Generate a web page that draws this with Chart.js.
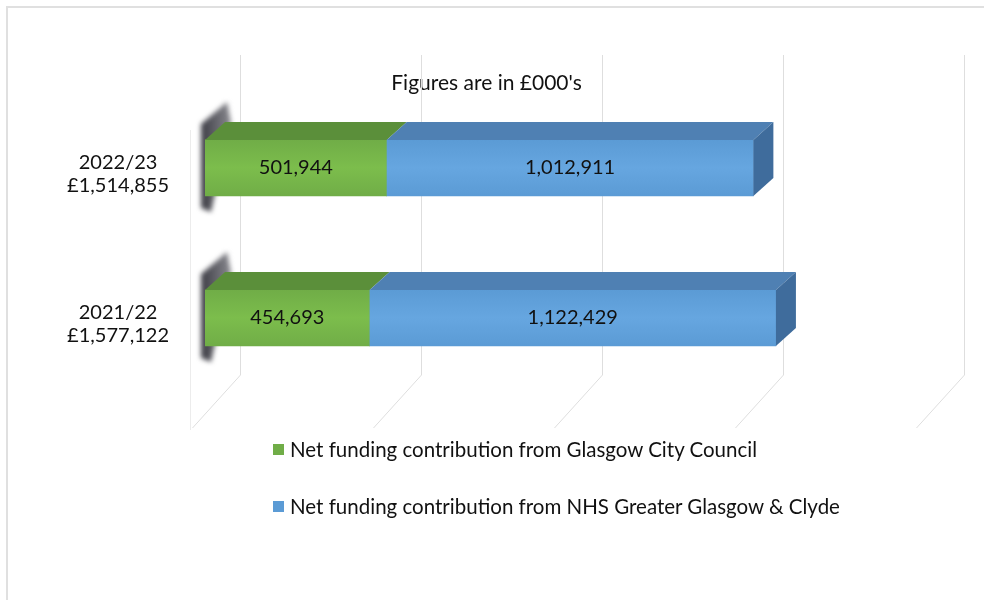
<!DOCTYPE html>
<html>
<head>
<meta charset="utf-8">
<script src="https://cdn.jsdelivr.net/npm/chart.js@4"></script>
<style>
  body { margin: 0; background: #fff; font-family: Lato, "Open Sans", sans-serif; }
  #wrap { position: relative; width: 984px; height: 600px; overflow: hidden; }
  #frame { position: absolute; left: 6px; top: 6px; width: 1000px; height: 620px; border: 2px solid #e0e0e0; box-sizing: border-box; }
  canvas { position: absolute; left: 0; top: 0; }
  .legend-item { position: absolute; left: 273px; font-size: 20.5px; color: #111; display: flex; align-items: center; line-height: 24px; }
  .legend-item span.box { width: 11px; height: 11px; margin-right: 6px; display: inline-block; }
</style>
</head>
<body>
<div id="wrap">
  <div id="frame"></div>
  <canvas id="chart" width="984" height="600"></canvas>
  <div id="legend"></div>
</div>
<script>
const years = ['2022/23', '2021/22'];
const totals = ['£1,514,855', '£1,577,122'];
const councilValues = [501944, 454693];
const nhsValues = [1012911, 1122429];
const seriesNames = [
  'Net funding contribution from Glasgow City Council',
  'Net funding contribution from NHS Greater Glasgow & Clyde'
];
const xTicks = [0, 500000, 1000000, 1500000, 2000000];

const frontColors = ['#70ad47', '#5b9bd5'];
const frontLight = ['#7cbd4c', '#66a6e0'];
const topColors = ['#5b8f3a', '#4f80b3'];
const sideColor = '#3f6c9c';
const depthX = 20, depthY = 18;

// back wall, floor and shadow of the left wall
const backdrop = {
  id: 'backdrop',
  beforeDatasetsDraw(chart) {
    const ctx = chart.ctx;
    const xs = chart.scales.x;
    ctx.save();
    ctx.strokeStyle = '#dedede';
    ctx.lineWidth = 1;
    xTicks.forEach(v => {
      const px = Math.round(xs.getPixelForValue(v)) + 35.5;
      ctx.beginPath();
      ctx.moveTo(px, 55);
      ctx.lineTo(px, 375);
      ctx.lineTo(px - 48, 428);
      ctx.stroke();
    });
    ctx.strokeStyle = '#ececec';
    ctx.beginPath();
    ctx.moveTo(190.5, 130);
    ctx.lineTo(190.5, 430);
    ctx.stroke();

    // dark shading on left wall next to each bar
    const meta = chart.getDatasetMeta(0);
    meta.data.forEach(bar => {
      const top = bar.y - bar.height / 2;
      const bottom = bar.y + bar.height / 2;
      const x0 = bar.base;
      ctx.filter = 'blur(2.5px)';
      const g = ctx.createLinearGradient(x0 - 4, 0, x0 + 26, 0);
      g.addColorStop(0, '#3c3c44');
      g.addColorStop(1, '#8a8a90');
      ctx.fillStyle = g;
      ctx.beginPath();
      ctx.moveTo(x0 - 4, top - 16);
      ctx.lineTo(x0 + 22, top - 38);
      ctx.lineTo(x0 + 26, top - 18);
      ctx.lineTo(x0 + 6, bottom + 16);
      ctx.lineTo(x0 - 4, bottom + 12);
      ctx.closePath();
      ctx.fill();
      ctx.filter = 'none';
    });
    ctx.restore();
  },
  afterDatasetsDraw(chart) {
    const ctx = chart.ctx;
    ctx.save();
    chart.data.datasets.forEach((ds, di) => {
      const meta = chart.getDatasetMeta(di);
      meta.data.forEach((bar, i) => {
        const top = bar.y - bar.height / 2;
        const bottom = bar.y + bar.height / 2;
        const left = bar.base, right = bar.x;
        // front face with soft shading
        const fg = ctx.createLinearGradient(0, top, 0, bottom);
        fg.addColorStop(0, frontColors[di]);
        fg.addColorStop(0.5, frontLight[di]);
        fg.addColorStop(1, frontColors[di]);
        ctx.fillStyle = fg;
        ctx.fillRect(left, top, right - left, bottom - top);
        // top face
        ctx.fillStyle = topColors[di];
        ctx.beginPath();
        ctx.moveTo(left, top);
        ctx.lineTo(right, top);
        ctx.lineTo(right + depthX, top - depthY);
        ctx.lineTo(left + depthX, top - depthY);
        ctx.closePath();
        ctx.fill();
        // side face on the end of the stack
        if (di === chart.data.datasets.length - 1) {
          ctx.fillStyle = sideColor;
          ctx.beginPath();
          ctx.moveTo(right, top);
          ctx.lineTo(right + depthX, top - depthY);
          ctx.lineTo(right + depthX, bottom - depthY);
          ctx.lineTo(right, bottom);
          ctx.closePath();
          ctx.fill();
        }
        // value label
        ctx.fillStyle = '#111';
        ctx.font = '20px Lato';
        ctx.textAlign = 'center';
        ctx.textBaseline = 'middle';
        ctx.fillText(ds.data[i].toLocaleString('en-GB'), (left + right) / 2, bar.y);
      });
    });
    ctx.restore();
  }
};

const ctx = document.getElementById('chart').getContext('2d');
const myChart = new Chart(ctx, {
  type: 'bar',
  data: {
    labels: years.map((y, i) => [y, totals[i]]),
    datasets: [
      { label: seriesNames[0], data: councilValues, backgroundColor: frontColors[0] },
      { label: seriesNames[1], data: nhsValues, backgroundColor: frontColors[1] }
    ]
  },
  options: {
    indexAxis: 'y',
    responsive: false,
    animation: false,
    layout: { padding: { left: 44, right: 55, top: 0, bottom: 207 } },
    datasets: { bar: { barThickness: 56 } },
    scales: {
      x: {
        stacked: true, min: 0, max: 2000000, display: false,
        ticks: { stepSize: 500000 }
      },
      y: {
        stacked: true,
        grid: { display: false, drawTicks: false },
        border: { display: false },
        afterFit(axis) { axis.width = 161; },
        ticks: {
          crossAlign: 'center', padding: 36, color: '#111', labelOffset: 6,
          font: { family: 'Lato', size: 20, lineHeight: 1.15 }
        }
      }
    },
    plugins: {
      legend: { display: false },
      tooltip: { enabled: false },
      title: {
        display: true, text: "Figures are in £000's", color: '#111',
        font: { family: 'Lato', size: 21, weight: 'normal', lineHeight: 0.9 },
        padding: { top: 74, bottom: 0 }
      }
    }
  },
  plugins: [backdrop]
});

// Legend
const legend = document.getElementById('legend');
const legendTops = [437, 494];
seriesNames.forEach((name, i) => {
  const item = document.createElement('div');
  item.className = 'legend-item';
  item.style.top = legendTops[i] + 'px';
  item.innerHTML = `<span class="box" style="background:${frontColors[i]}"></span>${name}`;
  legend.appendChild(item);
});
</script>
</body>
</html>
